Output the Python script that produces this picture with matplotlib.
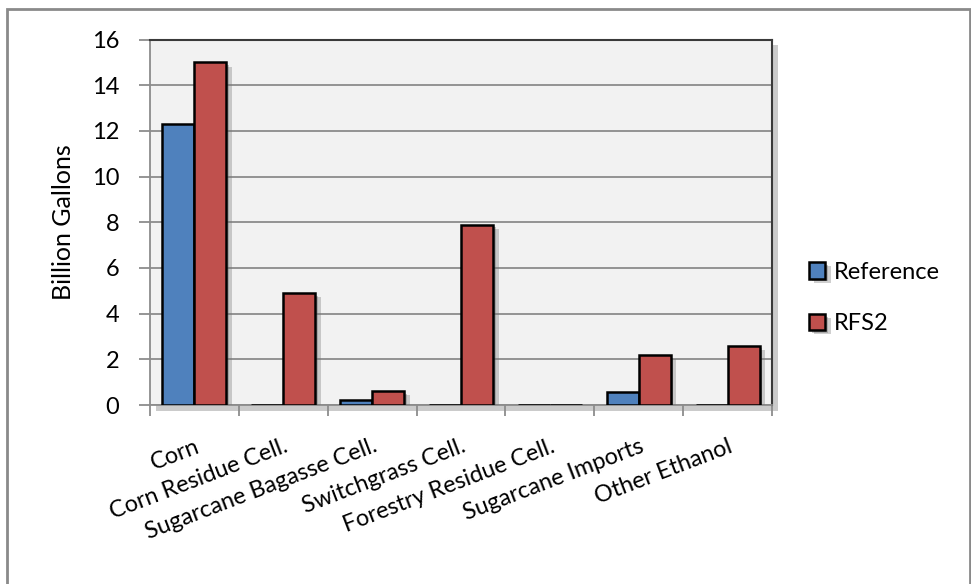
import numpy as np
import matplotlib
matplotlib.use("Agg")
import matplotlib.pyplot as plt
import matplotlib.patheffects as pe
from matplotlib.patches import Rectangle

plt.rcParams['font.family'] = ['Lato', 'DejaVu Sans']

categories = ["Corn", "Corn Residue Cell.", "Sugarcane Bagasse Cell.", "Switchgrass Cell.",
              "Forestry Residue Cell.", "Sugarcane Imports", "Other Ethanol"]
reference = [12.3, 0.0, 0.22, 0.0, 0.0, 0.57, 0.0]
rfs2 = [15.0, 4.9, 0.61, 7.9, 0.0, 2.2, 2.6]
series_names = ["Reference", "RFS2"]
colors = ["#4F81BD", "#C0504D"]

fig = plt.figure(figsize=(9.71, 5.84), dpi=100)
fig.patch.set_facecolor("white")

# outer chart frame
frame = Rectangle((7 / 971, -0.05), (970 - 7) / 971, 1.05 - 9 / 584,
                  transform=fig.transFigure, fill=False, edgecolor="#8a8a8a",
                  linewidth=2, clip_on=False)
fig.patches.append(frame)

ax = fig.add_axes([150 / 971, 1 - 405 / 584, (772 - 150) / 971, (405 - 39.5) / 584])
ax.set_facecolor("#F2F2F2")
ax.patch.set_path_effects([pe.SimplePatchShadow(offset=(4, -4), shadow_rgbFace="#999999", alpha=0.5),
                           pe.Normal()])

x = np.arange(len(categories))
w = 0.36
shadow = [pe.SimplePatchShadow(offset=(4, -3), shadow_rgbFace="#777777", alpha=0.35),
          pe.SimplePatchShadow(offset=(2, -2), shadow_rgbFace="#555555", alpha=0.3),
          pe.Normal()]
for i, (vals, name) in enumerate(zip([reference, rfs2], series_names)):
    bars = ax.bar(x + (i - 0.5) * w, vals, width=w, color=colors[i], edgecolor="black",
                  linewidth=1.8, label=name, zorder=3)
    for b in bars:
        b.set_path_effects(shadow)

ax.set_xlim(-0.5, len(categories) - 0.5)
ax.set_ylim(0, 16)
ax.set_yticks(np.arange(0, 17, 2))
ax.yaxis.grid(True, color="#8c8c8c", linewidth=1.3)
ax.set_axisbelow(True)

ax.set_xticks(x)
ax.set_xticklabels(categories, rotation=21, ha="right", va="top", rotation_mode="anchor",
                   fontsize=16.8)
ax.set_xticks(np.arange(-0.5, len(categories), 1), minor=True)
ax.tick_params(axis="x", which="major", length=0, pad=22)
ax.tick_params(axis="x", which="minor", length=8, color="#8c8c8c", width=1.3, direction="out")
ax.tick_params(axis="y", length=8, color="#8c8c8c", width=1.3, pad=14, labelsize=17)

for s in ["left", "bottom"]:
    ax.spines[s].set_color("#8c8c8c")
    ax.spines[s].set_linewidth(1.3)
for s in ["top", "right"]:
    ax.spines[s].set_color("#3a3a3a")
    ax.spines[s].set_linewidth(1.5)

ax.set_ylabel("Billion Gallons", fontsize=18, labelpad=12)

ax.legend(loc="center left", bbox_to_anchor=(1.025, 0.293), frameon=False, fontsize=17,
          handlelength=0.7, handleheight=0.7, handletextpad=0.35, labelspacing=1.3)

fig.savefig("out.png", dpi=100)
